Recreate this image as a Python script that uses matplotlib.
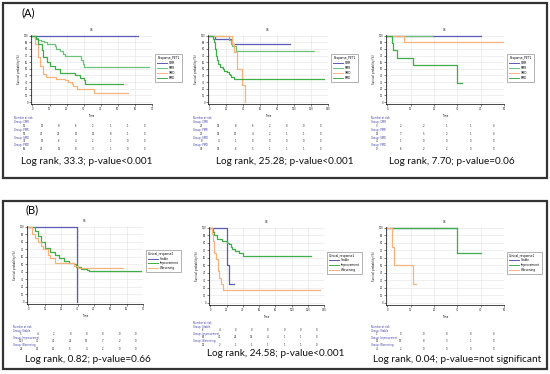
import matplotlib
matplotlib.use("Agg")
import matplotlib.pyplot as plt
from matplotlib.patches import Rectangle

W, H = 550, 374
fig = plt.figure(figsize=(5.5, 3.74), dpi=100)
fig.patch.set_facecolor("white")

BLUE = "#5a5ab8"
GREEN = "#3fae49"
GREEN2 = "#6cc27a"
ORANGE = "#f7b27c"
LBLUE = "#3a3aa8"

# ---------------- data ----------------
# Panel A1 (Response_PET1, x 0-70)
a1_cmr_t = [0, 62]
a1_cmr_s = [100, 100]
a1_pmr_t = [0, 1.5, 3, 5, 7, 8.3, 13, 14, 16, 18, 19, 28.5, 29.5, 30, 68]
a1_pmr_s = [100, 97, 94, 92, 90, 87, 84, 80, 77, 73, 69, 64, 58, 53, 53]
a1_pmd_t = [0, 2, 3.5, 5.4, 6.4, 8.3, 10, 13, 16, 19, 25, 28, 30, 31, 53]
a1_pmd_s = [100, 95, 87, 78, 68, 61, 54, 49, 44, 43, 40, 36, 33, 27, 27]
a1_smd_t = [0, 1.5, 3.5, 4.5, 6, 8, 14, 19, 21, 23, 24, 26, 35, 36, 56]
a1_smd_s = [100, 87, 68, 54, 42, 37, 35, 33, 30, 27, 24, 20, 20, 14, 14]

# Panel A2 (x 0-140)
a2_cmr_t = [0, 6, 27, 95]
a2_cmr_s = [100, 95, 88, 88]
a2_pmr_t = [0, 23, 25, 27, 31, 124]
a2_pmr_s = [100, 93, 88, 84, 77, 77]
a2_smd_t = [0, 27, 29, 33, 38, 42]
a2_smd_s = [100, 88, 75, 50, 25, 0]
a2_pmd_t = [0, 4, 5, 6, 6.6, 8, 9, 10.5, 13, 15.5, 17.5, 21, 23, 24.5, 26, 29, 135]
a2_pmd_s = [100, 95, 90, 85, 80, 70, 63, 57, 53, 50, 47, 45, 42, 40, 38, 35, 35]

# Panel A3 (x 0-50)
a3_cmr_t = [0, 40]
a3_cmr_s = [100, 100]
a3_smd_t = [0, 19]
a3_smd_s = [100, 100]
a3_pmr_t = [0, 7, 50]
a3_pmr_s = [100, 91, 91]
a3_pmd_t = [0, 2, 2.5, 4, 11, 30, 32]
a3_pmd_s = [100, 89, 78, 67, 56, 28, 28]

# Panel B1 (Clinical_response1, x 0-70)
b1_sta_t = [0, 29.6]
b1_sta_s = [100, 0]
b1_imp_t = [0, 4, 6, 8, 10, 13, 16, 19, 22, 25, 28, 29, 32, 36, 37, 69]
b1_imp_s = [100, 95, 88, 80, 72, 67, 62, 58, 55, 52, 50, 47, 44, 42, 41, 41]
b1_wor_t = [0, 2, 4, 6, 8, 9, 12, 13, 16, 27, 28, 30, 58]
b1_wor_s = [100, 90, 85, 80, 75, 70, 62, 58, 52, 52, 48, 45, 45]

# Panel B2 (x 0-140)
b2_sta_t = [0, 20, 20.8, 21.6, 22.4, 29]
b2_sta_s = [100, 75, 50, 50, 25, 25]
b2_imp_t = [0, 3.7, 5, 7.7, 14, 19, 21, 22.5, 25, 27, 30.5, 35, 40.7, 124]
b2_imp_s = [100, 95, 90, 85, 83, 82, 80, 78, 75, 72, 69, 67, 63, 63]
b2_wor_t = [0, 1.6, 3, 4, 4.9, 7, 9, 10, 11, 13, 15, 135]
b2_wor_s = [100, 92, 83, 75, 67, 58, 50, 42, 33, 25, 17, 17]

# Panel B3 (x 0-50)
b3_sta_t = [0, 30]
b3_sta_s = [100, 100]
b3_imp_t = [0, 30, 40]
b3_imp_s = [100, 67, 67]
b3_wor_t = [0, 2, 2.7, 10.9, 12.3]
b3_wor_s = [100, 75, 50, 25, 25]

# Numbers at risk
a1_groups = ["CMR", "PMR", "SMD", "PMD"]
a1_risk = [[16, 13, 8, 6, 2, 1, 1, 0],
           [57, 40, 23, 13, 10, 8, 1, 0],
           [33, 13, 6, 4, 2, 1, 0, 0],
           [56, 27, 16, 8, 3, 1, 0, 0]]
a2_risk = [[23, 19, 8, 6, 2, 0, 0, 0],
           [23, 19, 13, 4, 2, 1, 1, 0],
           [8, 4, 1, 0, 0, 0, 0, 0],
           [35, 14, 6, 5, 1, 1, 1, 0]]
a3_risk = [[3, 2, 2, 1, 1, 0],
           [12, 7, 5, 2, 1, 0],
           [4, 1, 0, 0, 0, 0],
           [9, 6, 2, 2, 0, 0]]
b_groups = ["Stable", "Improvement", "Worsening"]
b1_risk = [[5, 4, 2, 0, 0, 0, 0, 0],
           [113, 71, 41, 24, 13, 7, 2, 0],
           [24, 16, 11, 5, 4, 2, 0, 0]]
b2_risk = [[6, 4, 0, 0, 0, 0, 0, 0],
           [67, 41, 24, 14, 4, 1, 1, 0],
           [12, 2, 1, 1, 1, 1, 1, 0]]
b3_risk = [[1, 0, 0, 0, 0, 0],
           [15, 13, 8, 3, 1, 0],
           [4, 2, 0, 0, 0, 0]]

logranks = ["Log rank, 33.3; p-value<0.001",
            "Log rank, 25.28; p-value<0.001",
            "Log rank, 7.70; p-value=0.06",
            "Log rank, 0.82; p-value=0.66",
            "Log rank, 24.58; p-value<0.001",
            "Log rank, 0.04; p-value=not significant"]

TF = 1.8  # tiny font
LF = 2.1  # legend font


def fx(px):
    return px / W


def fy(py):
    return 1 - py / H


def add_ax(x0, y0, x1, y1):
    return fig.add_axes([x0 / W, 1 - y1 / H, (x1 - x0) / W, (y1 - y0) / H])


def km_axes(box, xmax, xstep, curves, legend_title, labels, colors, leg_y,
            lspace):
    ax = add_ax(*box)
    for (t, s), c in zip(curves, colors):
        ax.step(t, s, where="post", color=c, lw=0.9)
    ax.set_xlim(-xmax * 0.012, xmax)
    ax.set_ylim(-3, 101)
    ax.set_xticks(range(0, xmax + 1, xstep))
    ax.set_yticks(range(0, 101, 10))
    ax.tick_params(labelsize=TF, length=1.2, width=0.4, pad=1, colors="#222")
    ax.grid(True, color="#e3e3e3", lw=0.4)
    ax.set_axisbelow(True)
    for s in ["top", "right"]:
        ax.spines[s].set_visible(False)
    for s in ["left", "bottom"]:
        ax.spines[s].set_linewidth(0.5)
    ax.set_title("OS", fontsize=TF, pad=3)
    ax.set_xlabel("Time", fontsize=TF, labelpad=2)
    ax.set_ylabel("Survival probability (%)", fontsize=TF, labelpad=2)
    handles = [plt.Line2D([], [], color=c, lw=0.7) for c in colors]
    leg = ax.legend(handles, labels, title=legend_title, fontsize=LF,
                    title_fontsize=LF, loc="center left",
                    bbox_to_anchor=(1.015, leg_y), frameon=True,
                    fancybox=False, handlelength=3.2, borderpad=0.7,
                    labelspacing=lspace, handletextpad=0.8, edgecolor="#555")
    leg.get_frame().set_linewidth(0.4)
    leg._legend_box.align = "left"
    return ax


def risk_table(ax, xmax, xstep, groups, rows, ytop, xlab, dy=4.0):
    ticks = list(range(0, xmax + 1, xstep))
    y = ytop
    fig.text(fx(xlab), fy(y), "Number at risk", fontsize=TF, color=LBLUE,
             va="center")
    y += dy
    for g, r in zip(groups, rows):
        fig.text(fx(xlab), fy(y), "Group: " + g, fontsize=TF, color=LBLUE,
                 va="center")
        y += dy
        for t, v in zip(ticks, r):
            xd = t - 0.45 * xstep
            xf = ax.transData.transform((xd, 0))[0] / fig.bbox.width
            fig.text(xf, fy(y), str(v), fontsize=TF, color="#222",
                     ha="center", va="center")
        y += dy


# ---------------- panel A ----------------
A_labels = ["CMR", "PMR", "SMD", "PMD"]
A_colors = [BLUE, GREEN2, ORANGE, GREEN]

ax = km_axes((31, 35, 152, 104), 70, 10,
             [(a1_cmr_t, a1_cmr_s), (a1_pmr_t, a1_pmr_s),
              (a1_smd_t, a1_smd_s), (a1_pmd_t, a1_pmd_s)],
             "Response_PET1", A_labels, A_colors, 0.52, 0.3)
risk_table(ax, 70, 10, a1_groups, a1_risk, 118, 14, dy=3.9)

ax = km_axes((208, 35, 328, 104), 140, 20,
             [(a2_cmr_t, a2_cmr_s), (a2_pmr_t, a2_pmr_s),
              (a2_smd_t, a2_smd_s), (a2_pmd_t, a2_pmd_s)],
             "Response_PET1", A_labels, A_colors, 0.52, 0.3)
risk_table(ax, 140, 20, a1_groups, a2_risk, 118, 193, dy=3.9)

ax = km_axes((386, 35, 504, 104), 50, 10,
             [(a3_cmr_t, a3_cmr_s), (a3_smd_t, a3_smd_s),
              (a3_pmr_t, a3_pmr_s), (a3_pmd_t, a3_pmd_s)],
             "Response_PET1", A_labels,
             A_colors, 0.52, 0.3)
risk_table(ax, 50, 10, a1_groups, a3_risk, 118, 371, dy=3.9)

# ---------------- panel B ----------------
B_labels = ["Stable", "Improvement", "Worsening"]
B_colors = [BLUE, GREEN, ORANGE]

ax = km_axes((27, 226, 143, 304), 70, 10,
             [(b1_sta_t, b1_sta_s), (b1_imp_t, b1_imp_s),
              (b1_wor_t, b1_wor_s)],
             "Clinical_response1", B_labels, B_colors, 0.55, 0.2)
risk_table(ax, 70, 10, b_groups, b1_risk, 327, 13, dy=3.6)

ax = km_axes((209, 227, 324, 305), 140, 20,
             [(b2_sta_t, b2_sta_s), (b2_imp_t, b2_imp_s),
              (b2_wor_t, b2_wor_s)],
             "Clinical_response1", B_labels, B_colors, 0.54, 0.3)
risk_table(ax, 140, 20, b_groups, b2_risk, 323, 193, dy=3.6)

ax = km_axes((386, 227, 504, 305), 50, 10,
             [(b3_sta_t, b3_sta_s), (b3_imp_t, b3_imp_s),
              (b3_wor_t, b3_wor_s)],
             "Clinical_response1", B_labels, B_colors, 0.54, 0.3)
risk_table(ax, 50, 10, b_groups, b3_risk, 327, 371, dy=3.6)

# ---------------- texts and borders ----------------
LR_FONT = ["Lato", "DejaVu Sans"]
lr_pos = [(87, 162), (285, 162), (452, 162), (88, 360), (276, 353), (457, 360)]
for s, (x, y) in zip(logranks, lr_pos):
    fig.text(fx(x), fy(y), s, fontsize=7.2, family=LR_FONT,
             ha="center", va="center", color="#111")

fig.text(fx(22), fy(13), "(A)", fontsize=8, family=LR_FONT, va="center")
fig.text(fx(25), fy(210), "(B)", fontsize=8, family=LR_FONT, va="center")

for (x0, y0, x1, y1) in [(3, 3, 547, 178), (3, 201, 547, 369)]:
    fig.patches.append(Rectangle((fx(x0), fy(y1)), fx(x1 - x0), (y1 - y0) / H,
                                 transform=fig.transFigure, fill=False,
                                 edgecolor="#333", lw=1.6))

fig.savefig("out.png", dpi=100)
